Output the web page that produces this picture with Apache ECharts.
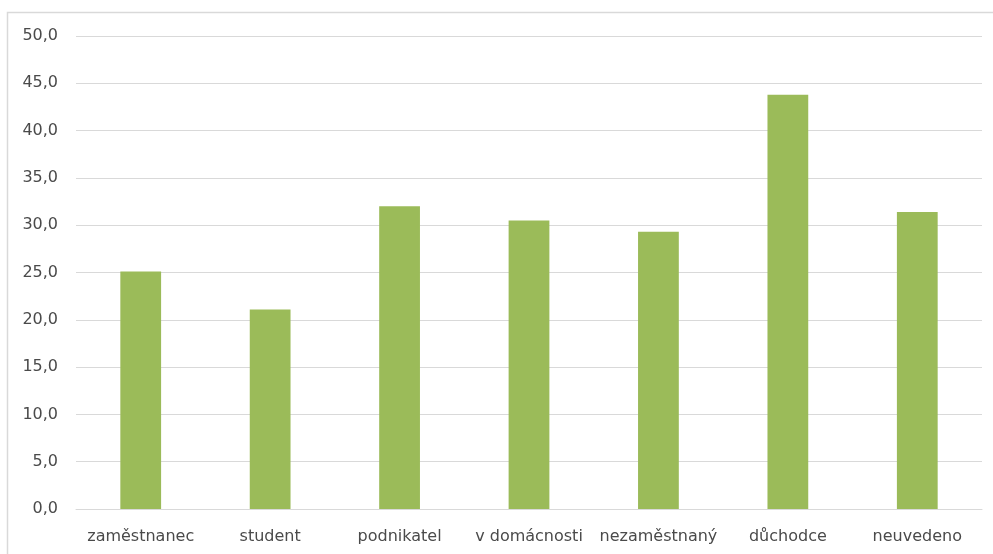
<!DOCTYPE html>
<html>
<head>
<meta charset="utf-8">
<script src="https://cdn.jsdelivr.net/npm/echarts@6/dist/echarts.min.js"></script>
<style>
html,body{margin:0;padding:0;background:#fff;}
#chart{width:993px;height:554px;}
</style>
</head>
<body>
<div id="chart"></div>
<script>
var categories = ["zaměstnanec", "student", "podnikatel", "v domácnosti", "nezaměstnaný", "důchodce", "neuvedeno"];
var values = [25.1, 21.1, 32.0, 30.5, 29.3, 43.8, 31.4];
var yTicks = [0, 5, 10, 15, 20, 25, 30, 35, 40, 45, 50];

var chart = echarts.init(document.getElementById('chart'));
var font = 'DejaVu Sans';
chart.setOption({
  animation: false,
  backgroundColor: '#ffffff',
  graphic: [{
    type: 'rect',
    shape: { x: 7.5, y: 12.5, width: 1100, height: 700 },
    style: { fill: 'none', stroke: '#d9d9d9', lineWidth: 1.5 },
    silent: true
  }],
  grid: { left: 76, right: 11, top: 36, bottom: 45, containLabel: false },
  xAxis: {
    type: 'category',
    data: categories,
    axisLine: { show: true, lineStyle: { color: '#d9d9d9', width: 1 } },
    axisTick: { show: false },
    axisLabel: { color: '#4a4a4a', fontFamily: font, fontSize: 16, margin: 20, interval: 0 }
  },
  yAxis: {
    type: 'value',
    min: yTicks[0],
    max: yTicks[yTicks.length - 1],
    interval: 5,
    axisLine: { show: false },
    axisTick: { show: false },
    splitLine: { lineStyle: { color: '#d9d9d9', width: 1 } },
    axisLabel: {
      color: '#4a4a4a', fontFamily: font, fontSize: 16, margin: 18,
      formatter: function (v) { return v.toFixed(1).replace('.', ','); }
    }
  },
  series: [{
    type: 'bar',
    data: values,
    barWidth: '31.5%',
    itemStyle: { color: '#9bbb59' }
  }]
});
</script>
</body>
</html>
